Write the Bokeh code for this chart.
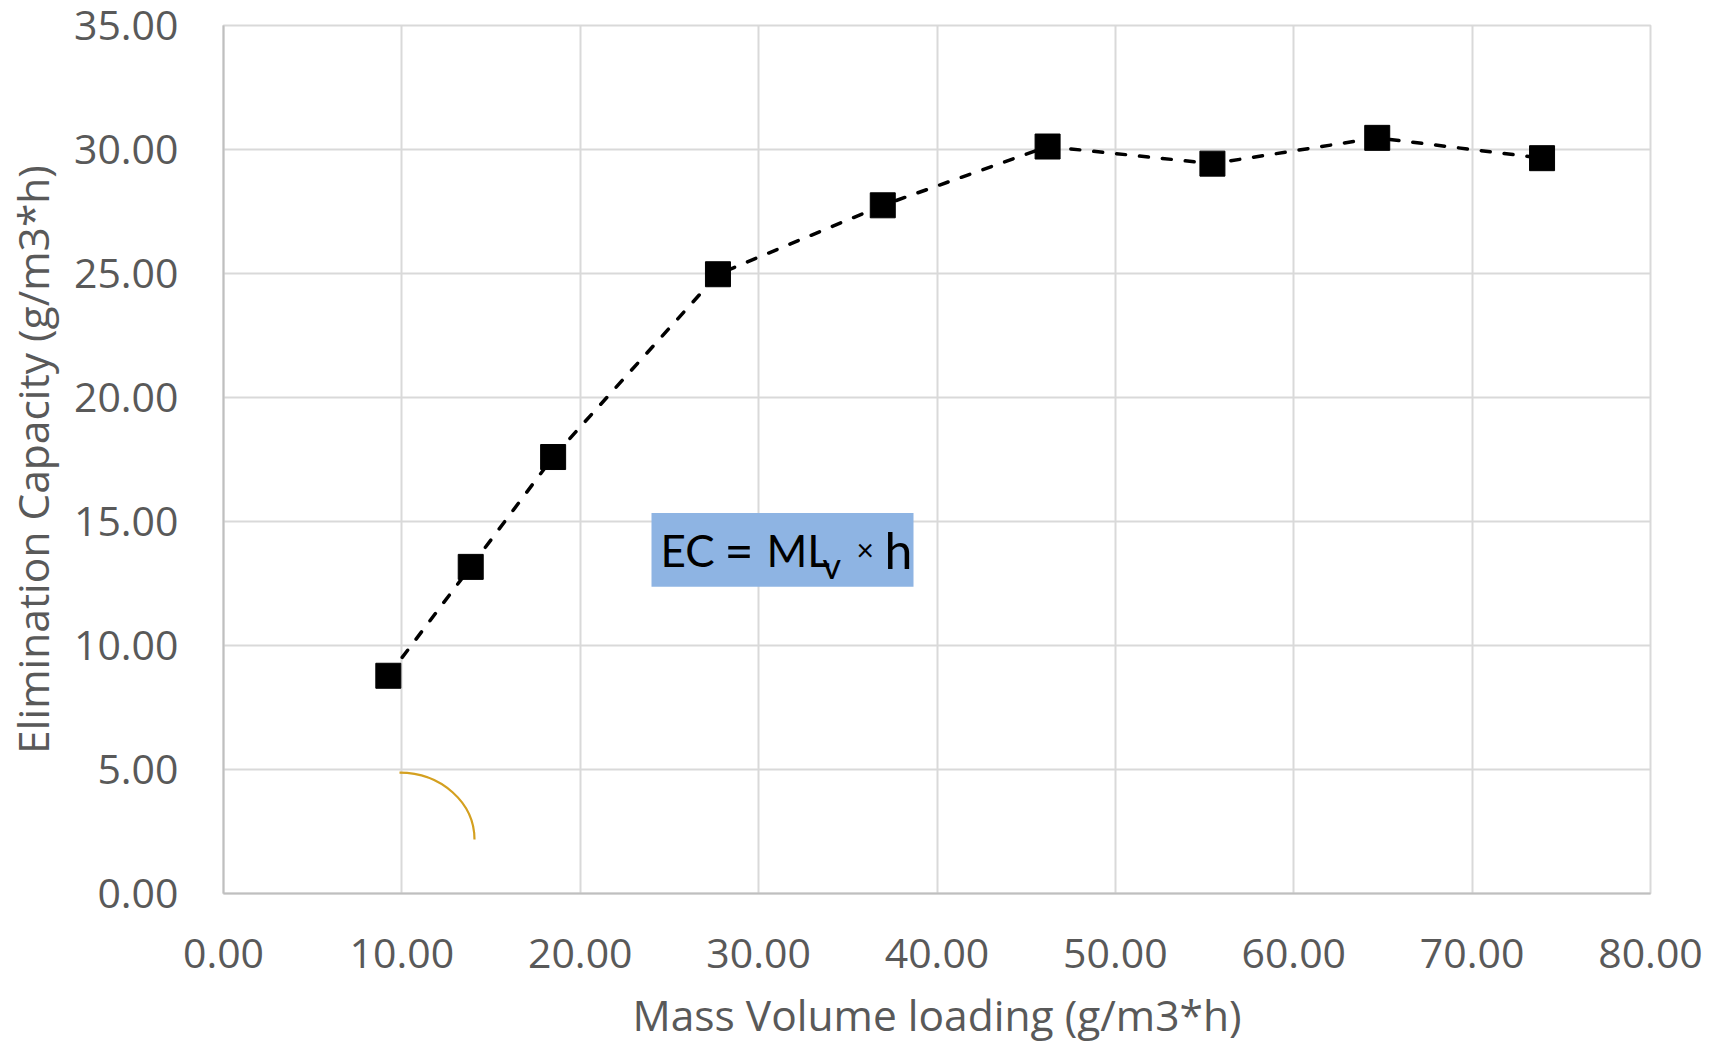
from bokeh.plotting import figure
from bokeh.models import NumeralTickFormatter, FixedTicker, Range1d
from bokeh.core.properties import value
from bokeh.embed import file_html
from bokeh.resources import INLINE

# Data
mass_volume_loading = [9.24, 13.86, 18.48, 27.72, 36.96, 46.20, 55.44, 64.68, 73.92]
elimination_capacity = [8.78, 13.17, 17.60, 24.97, 27.75, 30.12, 29.43, 30.47, 29.65]
x_ticks = [0, 10, 20, 30, 40, 50, 60, 70, 80]
y_ticks = [0, 5, 10, 15, 20, 25, 30, 35]
x_title = "Mass Volume loading (g/m3*h)"
y_title = "Elimination Capacity (g/m3*h)"

W, H = 1719, 1045
p = figure(width=W, height=H, output_backend="svg", toolbar_location=None,
           x_range=Range1d(0, 80), y_range=Range1d(0, 35),
           min_border_left=223, min_border_right=69, min_border_top=25, min_border_bottom=151)

# frame pixel scale
fx0, fx1, fy0, fy1 = 223, 1650, 894, 25
def dx(px):
    return (px - fx0) / (fx1 - fx0) * 80
def dy(py):
    return (fy0 - py) / (fy0 - fy1) * 35

p.background_fill_color = "white"
p.border_fill_color = "white"
p.outline_line_color = "#D9D9D9"
p.outline_line_width = 2

for ax in (p.xaxis, p.yaxis):
    ax.axis_line_color = "#BFBFBF"
    ax.axis_line_width = 2
    ax.major_tick_line_color = None
    ax.minor_tick_line_color = None
    ax.major_label_text_font = "Open Sans"
    ax.major_label_text_font_size = "41px"
    ax.major_label_text_color = "#595959"
    ax.axis_label_text_font = "Open Sans"
    ax.axis_label_text_font_size = "42.5px"
    ax.axis_label_text_color = "#595959"
    ax.axis_label_text_font_style = "normal"
    ax.formatter = NumeralTickFormatter(format="0.00")

p.xaxis.ticker = FixedTicker(ticks=x_ticks)
p.yaxis.ticker = FixedTicker(ticks=y_ticks)
p.xaxis.axis_label = x_title
p.yaxis.axis_label = y_title
p.xaxis.major_label_standoff = 39
p.yaxis.major_label_standoff = 39
p.xaxis.axis_label_standoff = 15
p.yaxis.axis_label_standoff = 10

p.xgrid.ticker = FixedTicker(ticks=x_ticks)
p.ygrid.ticker = FixedTicker(ticks=y_ticks)
p.grid.grid_line_color = "#D9D9D9"
p.grid.grid_line_width = 2

# series
p.line(mass_volume_loading, elimination_capacity, line_color="black", line_width=3.5,
       line_dash="9 14", line_cap="round")
p.scatter(mass_volume_loading, elimination_capacity, marker="square", size=25,
          fill_color="black", line_color="black", line_join="round", line_width=1)

# arc annotation (quarter ellipse as bezier)
ax0, ay0 = dx(399), dy(773)
ax1, ay1 = dx(474), dy(840)
k = 0.5523
p.bezier(x0=[ax0], y0=[ay0], x1=[ax1], y1=[ay1],
         cx0=[ax0 + k * (ax1 - ax0)], cy0=[ay0],
         cx1=[ax1], cy1=[ay1 + k * (ay0 - ay1)],
         line_color="#D4A020", line_width=2.2)

# equation box
p.quad(left=[dx(651)], right=[dx(913)], bottom=[dy(587)], top=[dy(513)],
       fill_color="#8EB4E3", fill_alpha=1.0, line_color=None, level="overlay")
eq_text = ["EC", "=", "ML", "v", "\u00d7", "h"]
eq_px = [660, 724, 766, 822, 856, 884]
eq_py = [550, 550, 550, 565, 549, 550]
eq_fs = ["44px", "50px", "44px", "36px", "30px", "50px"]
for t, px, py, fs in zip(eq_text, eq_px, eq_py, eq_fs):
    p.text(x=[dx(px)], y=[dy(py)], text=[t], text_font=value("Lato"),
           text_font_size=fs, text_color="black",
           text_baseline="alphabetic", text_align="left", level="overlay")

open("out.html", "w").write(file_html(p, INLINE))
